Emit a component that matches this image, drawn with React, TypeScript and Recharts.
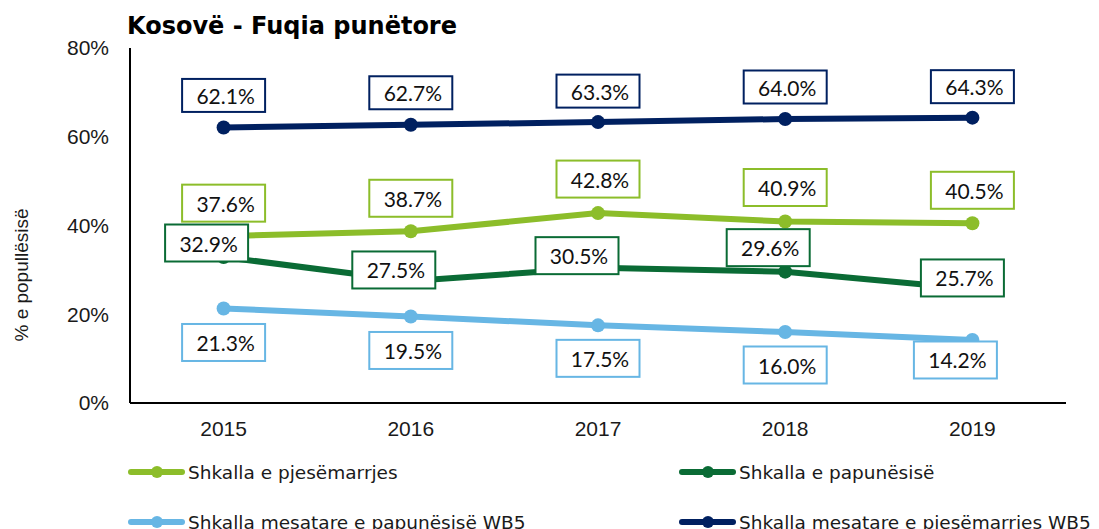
import React from "react";
import { LineChart, Line, XAxis, YAxis, LabelList } from "recharts";

const years = ["2015", "2016", "2017", "2018", "2019"];
const participation = [37.6, 38.7, 42.8, 40.9, 40.5];
const unemployment = [32.9, 27.5, 30.5, 29.6, 25.7];
const wb5Unemployment = [21.3, 19.5, 17.5, 16.0, 14.2];
const wb5Participation = [62.1, 62.7, 63.3, 64.0, 64.3];
const yTicks = [0, 20, 40, 60, 80];

const seriesNames = {
  participation: "Shkalla e pjesëmarrjes",
  unemployment: "Shkalla e papunësisë",
  wb5Unemployment: "Shkalla mesatare e papunësisë WB5",
  wb5Participation: "Shkalla mesatare e pjesëmarrjes WB5",
};

const colors = {
  participation: "#8cbd2a",
  unemployment: "#0a6b35",
  wb5Unemployment: "#67b6e4",
  wb5Participation: "#002060",
};

const sansFont = "Arial, 'Liberation Sans', sans-serif";
const verdanaFont = "Verdana, 'DejaVu Sans', sans-serif";

// label box offsets from the point (px), tuned by eye
const labelOffsets = {
  participation: [[0, -33], [0, -33], [0, -34], [0, -34], [0, -33]],
  unemployment: [[-17, -14], [-17, -11], [-21, -12], [-17, -24], [-10, -11]],
  wb5Unemployment: [[0, 34], [0, 34], [0, 33], [0, 33], [-17, 20]],
  wb5Participation: [[0, -32], [0, -32], [0, -31], [0, -32], [0, -31]],
};

const data = years.map((year, i) => ({
  year,
  participation: participation[i],
  unemployment: unemployment[i],
  wb5Unemployment: wb5Unemployment[i],
  wb5Participation: wb5Participation[i],
}));

type Key = keyof typeof colors;

const lineOrder: Key[] = ["wb5Participation", "participation", "unemployment", "wb5Unemployment"];

function makeLabel(key: Key, h: number) {
  return (props: any) => {
    const { x, y, value } = props;
    let index = props.index;
    if (index == null) index = data.findIndex((d) => d[key] === value);
    const [dx, dy] = labelOffsets[key][index] || [0, 0];
    const cx = Number(x) + dx;
    const cy = Number(y) + dy;
    return (
      <g>
        <rect
          x={cx - 41.5}
          y={cy - h / 2}
          width={83}
          height={h}
          fill="#ffffff"
          stroke={colors[key]}
          strokeWidth={2}
        />
        <text
          x={cx + 2}
          y={cy}
          textAnchor="middle"
          dominantBaseline="central"
          fontFamily="Lato, 'Open Sans', sans-serif"
          fontSize={21}
          fill="#111111"
        >
          {Number(value).toFixed(1)}%
        </text>
      </g>
    );
  };
}

const legendItems: { key: Key; x: number; y: number }[] = [
  { key: "participation", x: 129, y: 472 },
  { key: "unemployment", x: 680, y: 472 },
  { key: "wb5Unemployment", x: 129, y: 522 },
  { key: "wb5Participation", x: 680, y: 522 },
];

export default function App() {
  return (
    <div style={{ position: "absolute", left: 0, top: 0, width: 1099, height: 529, background: "#fff" }}>
      <LineChart
        width={1099}
        height={529}
        data={data}
        margin={{ top: 48, right: 33, left: 20, bottom: 86 }}
      >
        <XAxis
          dataKey="year"
          padding={{ left: 93.6, right: 93.6 }}
          axisLine={{ stroke: "#000", strokeWidth: 2 }}
          tickLine={false}
          tickMargin={12}
          height={40}
          tick={{ fill: "#1a1a1a", fontSize: 21, fontFamily: sansFont }}
        />
        <YAxis
          domain={[0, 80]}
          ticks={yTicks}
          width={110}
          tickFormatter={(v) => `${v}%`}
          axisLine={{ stroke: "#000", strokeWidth: 2 }}
          tickLine={false}
          tickMargin={15}
          tick={{ fill: "#1a1a1a", fontSize: 21, fontFamily: sansFont }}
          label={{
            content: () => (
              <text
                transform="translate(21,275) rotate(-90)"
                textAnchor="middle"
                dominantBaseline="central"
                fontFamily={sansFont}
                fontSize={19}
                fill="#1a1a1a"
              >
                % e popullësisë
              </text>
            ),
          }}
        />
        {lineOrder.map((key) => (
          <Line
            key={key}
            dataKey={key}
            name={seriesNames[key]}
            stroke={colors[key]}
            strokeWidth={6}
            dot={{ r: 7, fill: colors[key], stroke: colors[key], strokeWidth: 0 }}
            activeDot={false}
            isAnimationActive={false}
          />
        ))}
        {lineOrder.map((key) => (
          <Line
            key={key + "-labels"}
            dataKey={key}
            stroke="none"
            dot={false}
            activeDot={false}
            legendType="none"
            isAnimationActive={false}
          >
            <LabelList dataKey={key} content={makeLabel(key, key === "wb5Participation" ? 33 : 37)} />
          </Line>
        ))}
      </LineChart>
      <svg
        width={1099}
        height={529}
        style={{ position: "absolute", left: 0, top: 0, pointerEvents: "none" }}
      >
        <text x={127} y={34} fontFamily={verdanaFont} fontWeight="bold" fontSize={24} fill="#000">
          Kosovë - Fuqia punëtore
        </text>
        {legendItems.map((item) => (
          <g key={item.key}>
            <line
              x1={item.x + 2}
              x2={item.x + 53}
              y1={item.y}
              y2={item.y}
              stroke={colors[item.key]}
              strokeWidth={6}
              strokeLinecap="round"
            />
            <circle cx={item.x + 28} cy={item.y} r={6} fill={colors[item.key]} />
            <text
              x={item.x + 59}
              y={item.y}
              dominantBaseline="central"
              fontFamily={verdanaFont}
              fontSize={18.5}
              fill="#1a1a1a"
            >
              {seriesNames[item.key]}
            </text>
          </g>
        ))}
      </svg>
    </div>
  );
}
